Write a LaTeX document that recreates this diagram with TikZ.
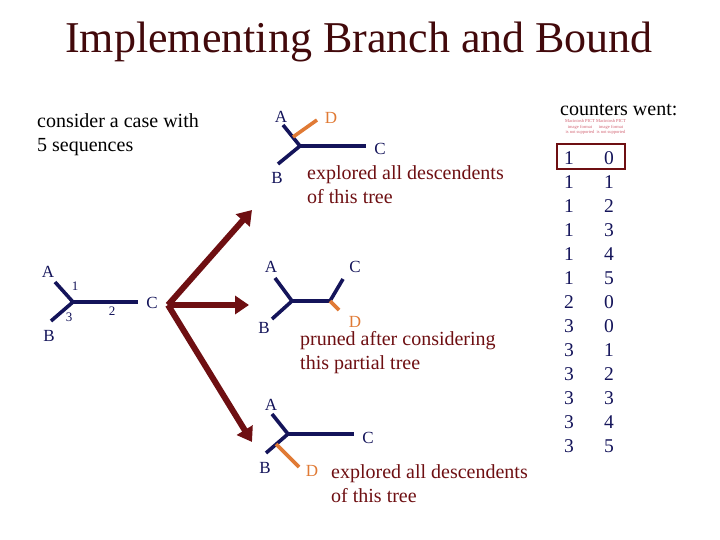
\documentclass[tikz,border=0pt]{standalone}
\usepackage{fontspec}
\setmainfont{Liberation Serif}
\usetikzlibrary{arrows.meta}
\definecolor{navy}{HTML}{14145A}
\definecolor{dred}{HTML}{6E0F12}
\definecolor{orng}{HTML}{E07A35}
\definecolor{pinkish}{HTML}{D06070}
\tikzset{
  br/.style={navy,line width=3.6pt},
  obr/.style={orng,line width=3.6pt},
  lab/.style={navy,font=\fontsize{17}{17}\selectfont,inner sep=0pt},
  olab/.style={orng,font=\fontsize{17}{17}\selectfont,inner sep=0pt},
  note/.style={dred,font=\fontsize{20}{24}\selectfont,inner sep=0pt,anchor=west,align=left},
  small/.style={navy,font=\fontsize{13}{13}\selectfont,inner sep=0pt},
  big/.style={dred,line width=6pt,-{Triangle[length=14pt,width=18pt]}},
  cnt/.style={navy,font=\fontsize{19.5}{19.5}\selectfont,inner sep=0pt},
  pict/.style={pinkish,font=\fontsize{4.5}{5.5}\selectfont,inner sep=0pt,align=center}
}
\begin{document}
\begin{tikzpicture}[x=1pt,y=-1pt]
\useasboundingbox (0,0) rectangle (720,540);
\node[inner sep=0pt,font=\fontsize{44}{44}\selectfont,text=dred!60!black] (title) at (359,42) {Implementing Branch and Bound};
\node[inner sep=0pt,anchor=west,align=left,font=\fontsize{20}{24}\selectfont] (case) at (37,135) {consider a case with\\5 sequences};

% left tree
\coordinate (LJ) at (73,302);
\coordinate (LA) at (55,282);
\coordinate (LB) at (51,321);
\coordinate (LC) at (138,302);
\draw[br] (LA) -- (LJ) -- (LB);
\draw[br] (LJ) -- (LC);
\node[lab] (lA) at (48,272) {A};
\node[lab] (lB) at (49,336) {B};
\node[lab] (lC) at (152,303) {C};
\node[small] (n1) at (75,286) {1};
\node[small] (n3) at (69,317) {3};
\node[small] (n2) at (112,311) {2};

% big arrows
\coordinate (S) at (168,305);
\coordinate (T1) at (252,210);
\coordinate (T2) at (249,305);
\coordinate (T3) at (252,442);
\draw[big] (S) -- (T1);
\draw[big] (S) -- (T2);
\draw[big] (S) -- (T3);

% top tree
\coordinate (TJ) at (300,146);
\coordinate (TA) at (283,125);
\coordinate (TB) at (278,164);
\coordinate (TC) at (366,146);
\coordinate (TD0) at (293,137);
\coordinate (TD) at (317,120);
\draw[br] (TA) -- (TJ) -- (TB);
\draw[br] (TJ) -- (TC);
\draw[obr] (TD0) -- (TD);
\node[lab] (tA) at (281,117) {A};
\node[lab] (tB) at (277,178) {B};
\node[lab] (tC) at (380,149) {C};
\node[olab] (tD) at (331,118) {D};
\node[note] (tn) at (307,185) {explored all descendents\\of this tree};

% middle tree
\coordinate (MJ) at (292,301);
\coordinate (MA) at (275,278);
\coordinate (MB) at (272,319);
\coordinate (MK) at (330,301);
\coordinate (MC) at (343,279);
\coordinate (MD) at (339,310);
\draw[br] (MA) -- (MJ) -- (MB);
\draw[br] (MJ) -- (MK) -- (MC);
\draw[obr] (MK) -- (MD);
\node[lab] (mA) at (271,267) {A};
\node[lab] (mB) at (264,328) {B};
\node[lab] (mC) at (355,267) {C};
\node[olab] (mD) at (355,322) {D};
\node[note] (mn) at (300,353) {pruned after considering\\this partial tree};

% bottom tree
\coordinate (BJ) at (288,434);
\coordinate (BA) at (272,414);
\coordinate (BB) at (266,453);
\coordinate (BC) at (354,434);
\coordinate (BD0) at (276,444);
\coordinate (BD) at (299,467);
\draw[br] (BA) -- (BJ) -- (BB);
\draw[br] (BJ) -- (BC);
\draw[obr] (BD0) -- (BD);
\node[lab] (bA) at (271,405) {A};
\node[lab] (bB) at (265,468) {B};
\node[lab] (bC) at (368,438) {C};
\node[olab] (bD) at (312,471) {D};
\node[note] (bn) at (331,484) {explored all descendents\\of this tree};

% counters
\node[inner sep=0pt,font=\fontsize{20}{20}\selectfont,anchor=west] (cw) at (560,110) {counters went:};
\node[pict] (p1) at (580,127) {Macintosh PICT\\image format\\is not supported};
\node[pict] (p2) at (611,127) {Macintosh PICT\\image format\\is not supported};
\draw[dred,line width=2.2pt] (557,144) rectangle (625,169);
\foreach \a/\b [count=\i from 0] in {1/0,1/1,1/2,1/3,1/4,1/5,2/0,3/0,3/1,3/2,3/3,3/4,3/5}{
  \node[cnt] (ca\i) at (569,158+24*\i) {\a};
  \node[cnt] (cb\i) at (609,158+24*\i) {\b};
}
\end{tikzpicture}
\end{document}
